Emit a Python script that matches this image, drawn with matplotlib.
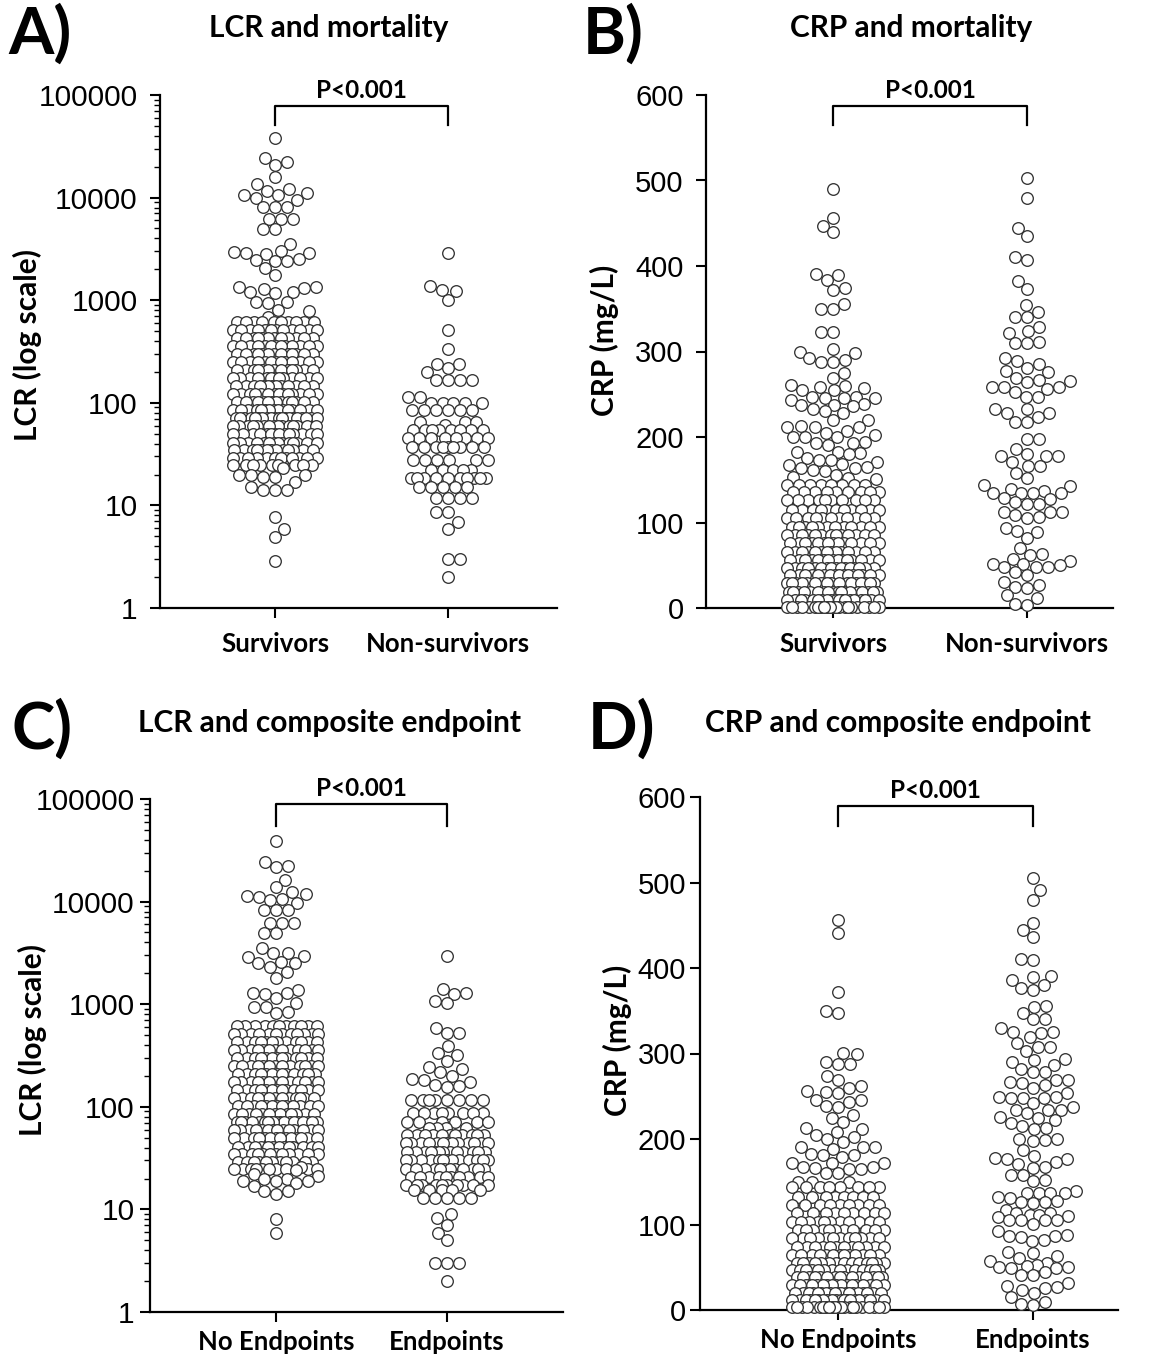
import numpy as np
import matplotlib
matplotlib.use("Agg")
import matplotlib.pyplot as plt
import matplotlib.transforms as mtransforms
from matplotlib.ticker import LogLocator, NullFormatter, FixedLocator

# ---------------- data ----------------
# LCR, mortality: survivors
lcr_surv_top = [38000, 24500, 22000, 21000, 16000, 13500, 12000, 11500, 11000, 10500,
                10500, 10000, 9500, 8100, 8100, 8100, 6200, 6200, 6200, 4900, 4900,
                3500, 3000, 2950, 2900, 2900, 2850, 2500, 2450, 2400, 2400, 2050, 1780,
                1350, 1340, 1320, 1300, 1200, 1200, 1180, 960, 950, 940, 800, 790, 690]
lcr_rows = [614, 513, 428, 358, 299, 250, 209, 175, 146, 122, 102, 85, 71, 59, 50, 41, 35, 29, 25]
lcr_surv_counts = [10, 12, 12, 13, 13, 13, 13, 13, 13, 14, 14, 15, 20, 15, 14, 14, 13, 12, 9]
lcr_surv_low = [23, 20, 20, 19, 19, 20, 17, 14, 14, 14, 15, 7.7, 5.9, 4.9, 2.9]

# LCR, mortality: non-survivors
lcr_nonsurv = [2880, 1390, 1270, 1230, 1010, 510, 335, 240, 240, 218, 200,
               166, 166, 166, 166, 114, 114, 8.6, 8.6, 6.9, 5.9, 3, 3, 2]
lcr_nonsurv_rows = [100, 85, 65, 61, 54, 45, 37, 28, 22, 18.5, 15, 11.8]
lcr_nonsurv_counts = [5, 6, 3, 1, 8, 8, 9, 6, 5, 10, 5, 4]

# LCR, composite endpoint: no endpoints
lcr_noep_top = [39000, 24500, 22300, 21800, 16300, 13800, 12400, 11800, 11300, 11000,
                10600, 10400, 9700, 8200, 8200, 8200, 6200, 6200, 6200, 4900, 4900,
                3500, 3160, 3160, 2950, 2880, 2570, 2510, 2510, 2290, 2040, 1820, 1380,
                1290, 1290, 1260, 1150, 1020, 940, 940, 840, 820]
lcr_noep_counts = [11, 12, 12, 13, 13, 13, 13, 13, 13, 13, 13, 13, 19, 14, 14, 13, 12, 11, 9]
lcr_noep_low = [26, 25, 24, 22, 21, 20, 20, 19, 19, 19, 18, 17, 15, 15, 14, 8, 5.9]

# LCR, composite endpoint: endpoints
lcr_ep_top = [2950, 1400, 1290, 1260, 1070, 1020, 590, 525, 525, 390, 335, 320, 279,
              244, 233, 218, 200, 187, 182, 175, 163, 160, 156]
lcr_ep_rows = [116, 87, 71, 62, 53, 44, 36, 30, 25, 20.7, 17.3, 15.5, 12.9]
lcr_ep_counts = [8, 8, 6, 4, 11, 13, 13, 13, 12, 10, 10, 5, 5]
lcr_ep_low = [9.0, 8.2, 7.0, 5.9, 5.0, 3, 3, 3, 2]

# CRP, mortality: survivors
crp_surv_top = [490, 456, 447, 440, 391, 389, 384, 374, 372, 356, 350, 350, 323, 323,
                303, 300, 298, 292, 290, 288, 288, 275, 269, 261, 260, 259, 257, 255,
                255, 247, 247, 246, 246, 246, 243, 239, 238, 237, 236, 233, 230, 228,
                220, 220, 213, 212, 212, 212, 207, 205, 202, 200, 200, 200, 194, 193,
                193, 191, 183, 183, 181, 180, 175, 173, 173, 171, 168, 167, 165, 164,
                164, 161, 160, 156, 153, 152, 151]
crp_surv_rows = [144, 136, 126, 115, 105, 95, 85, 76, 66, 56, 47, 39, 29, 19, 9, 1]
crp_surv_counts = [8, 9, 10, 11, 11, 12, 13, 14, 14, 15, 16, 16, 17, 18, 19, 22]

# CRP, mortality: non-survivors
crp_nonsurv = [503, 480, 444, 435, 410, 407, 382, 373, 354, 346, 340, 340, 329, 324,
               322, 311, 310, 310, 292, 289, 285, 281, 277, 276, 269, 267, 265, 264,
               258, 258, 258, 256, 253, 247, 247, 233, 233, 228, 228, 223, 218, 218,
               198, 198, 186, 180, 178, 178, 178, 171, 166, 166, 158, 152, 144, 143,
               139, 137, 134, 134, 134, 134, 129, 127, 124, 122, 122, 112, 112, 112,
               109, 106, 105, 94, 90, 89, 82, 70, 63, 62, 57, 55, 51, 51, 50, 48, 48,
               48, 42, 39, 30, 27, 25, 23, 15, 12, 5, 4]

# CRP, composite endpoint: no endpoints
crp_noep_top = [456, 441, 372, 350, 347, 301, 299, 290, 288, 288, 274, 269, 262, 260,
                256, 255, 254, 246, 246, 243, 239, 237, 228, 225, 220, 213, 212, 208,
                205, 202, 200, 196, 191, 191, 191, 188, 182, 181, 181, 179, 172, 172,
                172, 167, 167, 166, 165, 165, 160, 160]
crp_noep_rows = [150, 144, 132, 123, 113, 103, 94, 84, 74, 64, 55, 47, 39, 29, 20, 12, 4]
crp_noep_counts = [3, 8, 8, 9, 9, 11, 11, 12, 12, 13, 14, 14, 15, 17, 19, 20, 22]

# CRP, composite endpoint: endpoints
crp_ep = [505, 491, 480, 453, 444, 436, 411, 409, 391, 389, 386, 380, 377, 374, 356,
          354, 347, 340, 340, 330, 325, 325, 324, 319, 312, 308, 308, 303, 294, 292,
          290, 287, 282, 278, 278, 269, 269, 267, 265, 263, 260, 254, 249, 249, 248,
          248, 248, 242, 237, 234, 234, 234, 230, 226, 225, 222, 219, 215, 213, 212,
          200, 200, 199, 198, 187, 180, 178, 177, 177, 173, 171, 167, 166, 158, 158,
          152, 151, 139, 137, 137, 137, 137, 132, 131, 127, 126, 126, 125, 117, 113,
          113, 111, 111, 110, 109, 105, 105, 105, 105, 101, 92, 88, 87, 87, 85, 82,
          81, 68, 67, 63, 61, 57, 55, 53, 51, 50, 50, 49, 49, 44, 41, 41, 32, 28, 27,
          26, 23, 20, 15, 9, 7, 6]

groups_A = ["Survivors", "Non-survivors"]
groups_C = ["No Endpoints", "Endpoints"]
p_text = "P<0.001"


def build(top, rows, counts, low=()):
    return np.concatenate([np.asarray(top, float),
                           np.repeat(np.asarray(rows, float), counts),
                           np.asarray(low, float)])


lcr_surv = build(lcr_surv_top, lcr_rows, lcr_surv_counts, lcr_surv_low)
lcr_ns = build(lcr_nonsurv, lcr_nonsurv_rows, lcr_nonsurv_counts)
lcr_noep = build(lcr_noep_top, lcr_rows, lcr_noep_counts, lcr_noep_low)
lcr_ep = build(lcr_ep_top, lcr_ep_rows, lcr_ep_counts, lcr_ep_low)
crp_surv = build(crp_surv_top, crp_surv_rows, crp_surv_counts)
crp_ns = np.asarray(crp_nonsurv, float)
crp_noep = build(crp_noep_top, crp_noep_rows, crp_noep_counts)
crp_epv = np.asarray(crp_ep, float)

# ---------------- figure ----------------
W, H = 1161, 1356
fig = plt.figure(figsize=(W / 100, H / 100), dpi=100)
BOLD = "Lato"
TICKF = "Liberation Sans"
D_PX = 12.0  # marker diameter in pixels


def add_ax(left, right, top, bottom, c0, c1, xpad=10, ypad=9):
    ax = fig.add_axes([left / W, 1 - bottom / H, (right - left) / W, (bottom - top) / H])
    scale = c1 - c0
    ax.set_xlim(-(c0 - left) / scale, 1 + (right - c1) / scale)
    for s in ["top", "right"]:
        ax.spines[s].set_visible(False)
    for s in ["left", "bottom"]:
        ax.spines[s].set_linewidth(1.6)
    ax.tick_params(axis="y", which="major", length=7, width=1.5, pad=ypad)
    ax.tick_params(axis="y", which="minor", length=4, width=1.0)
    ax.tick_params(axis="x", which="major", length=7, width=1.5, pad=xpad)
    return ax, scale


def swarm_offsets(ypx, half_w, d):
    order = np.argsort(ypx, kind="stable")
    xs = np.zeros(len(ypx))
    placed_x, placed_y = [], []
    grid = np.linspace(-half_w, half_w, 61)
    for k, i in enumerate(order):
        y = ypx[i]
        px = np.array(placed_x)
        py = np.array(placed_y)
        if len(px):
            m = np.abs(py - y) < d
            nx, ny = px[m], py[m]
        else:
            nx, ny = np.array([]), np.array([])
        cands = [0.0]
        for a, b in zip(nx, ny):
            dx = np.sqrt(max(d * d - (b - y) ** 2, 0.0))
            cands += [a - dx, a + dx]
        sgn = 1 if k % 2 else -1
        cands = sorted(cands, key=lambda c: (round(abs(c), 3), sgn * c))
        best = None
        for c in cands:
            if abs(c) > half_w:
                continue
            if len(nx) == 0 or np.all((nx - c) ** 2 + (ny - y) ** 2 >= d * d - 1e-6):
                best = c
                break
        if best is None:
            dist = np.sqrt((grid[:, None] - nx[None, :]) ** 2 + (y - ny[None, :]) ** 2).min(axis=1)
            score = dist - 0.02 * np.abs(grid)
            best = grid[np.argmax(score)]
        xs[i] = best
        placed_x.append(best)
        placed_y.append(y)
    return xs


def draw_swarm(ax, scale, pos, vals, half_w):
    pts = ax.transData.transform(np.column_stack([np.full(len(vals), pos), vals]))
    off = swarm_offsets(pts[:, 1], half_w, D_PX)
    ax.scatter(pos + off / scale, vals, s=70, facecolor="white", edgecolor="#333333",
               linewidth=0.95, clip_on=False, zorder=3)


def bracket(ax, y_line, y_drop, y_text):
    tr = mtransforms.blended_transform_factory(ax.transData, ax.transAxes)
    ax.plot([0, 0, 1, 1], [y_drop, y_line, y_line, y_drop], color="black", lw=1.6,
            transform=tr, clip_on=False)
    ax.text(0.5, y_text, p_text, transform=tr, ha="center", va="center",
            fontsize=17.5, fontweight="bold", family=BOLD)


def set_cats(ax, names):
    ax.set_xticks([0, 1])
    ax.set_xticklabels(names, fontsize=18.5, fontweight="bold", family=BOLD)


def log_axis(ax):
    ax.set_yscale("log")
    ax.set_ylim(1, 100000)
    ax.yaxis.set_major_locator(FixedLocator([1, 10, 100, 1000, 10000, 100000]))
    ax.set_yticklabels(["1", "10", "100", "1000", "10000", "100000"],
                       family=TICKF, fontsize=21.5)
    ax.yaxis.set_minor_locator(LogLocator(base=10, subs=np.arange(2, 10), numticks=20))
    ax.yaxis.set_minor_formatter(NullFormatter())


def lin_axis(ax):
    ax.set_ylim(0, 600)
    ax.set_yticks(range(0, 601, 100))
    ax.set_yticklabels([str(v) for v in range(0, 601, 100)], family=TICKF, fontsize=21)


# Panel A
axA, sA = add_ax(160, 557, 95, 608, 275, 448)
log_axis(axA)
set_cats(axA, groups_A)
draw_swarm(axA, sA, 0, lcr_surv, 42)
draw_swarm(axA, sA, 1, lcr_ns, 40)
bracket(axA, 0.9786, 0.9415, 1.0097)

# Panel B
axB, sB = add_ax(706, 1113, 95, 608, 833, 1027)
lin_axis(axB)
set_cats(axB, groups_A)
draw_swarm(axB, sB, 0, crp_surv, 46)
draw_swarm(axB, sB, 1, crp_ns, 43)
bracket(axB, 0.9786, 0.9415, 1.0097)

# Panel C
axC, sC = add_ax(150, 563, 799, 1312, 276, 447, xpad=6, ypad=4)
log_axis(axC)
set_cats(axC, groups_C)
draw_swarm(axC, sC, 0, lcr_noep, 42)
draw_swarm(axC, sC, 1, lcr_ep, 41)
bracket(axC, 0.990, 0.947, 1.0195)

# Panel D
axD, sD = add_ax(700, 1118, 797, 1310, 838, 1033, xpad=6, ypad=3)
lin_axis(axD)
set_cats(axD, groups_C)
draw_swarm(axD, sD, 0, crp_noep, 46)
draw_swarm(axD, sD, 1, crp_epv, 43)
bracket(axD, 0.982, 0.943, 1.0117)

# axis labels, titles and panel letters
for (x, y, t) in [(27, 345, "LCR (log scale)"), (604, 340, "CRP (mg/L)"),
                  (32, 1040, "LCR (log scale)"), (617, 1040, "CRP (mg/L)")]:
    fig.text(x / W, 1 - y / H, t, ha="center", va="center", rotation=90,
             fontsize=21.5, fontweight="bold", family=BOLD)
for (x, y, t) in [(329, 28, "LCR and mortality"), (911, 28, "CRP and mortality"),
                  (330, 723, "LCR and composite endpoint"), (898, 723, "CRP and composite endpoint")]:
    fig.text(x / W, 1 - y / H, t, ha="center", va="center", fontsize=21.5,
             fontweight="bold", family=BOLD)
for (x, y, t) in [(8, 34, "A)"), (583, 34, "B)"), (12, 729, "C)"), (588, 729, "D)")]:
    fig.text(x / W, 1 - y / H, t, ha="left", va="center", fontsize=47,
             fontweight="bold", family=BOLD)

fig.savefig("out.png", dpi=100)
